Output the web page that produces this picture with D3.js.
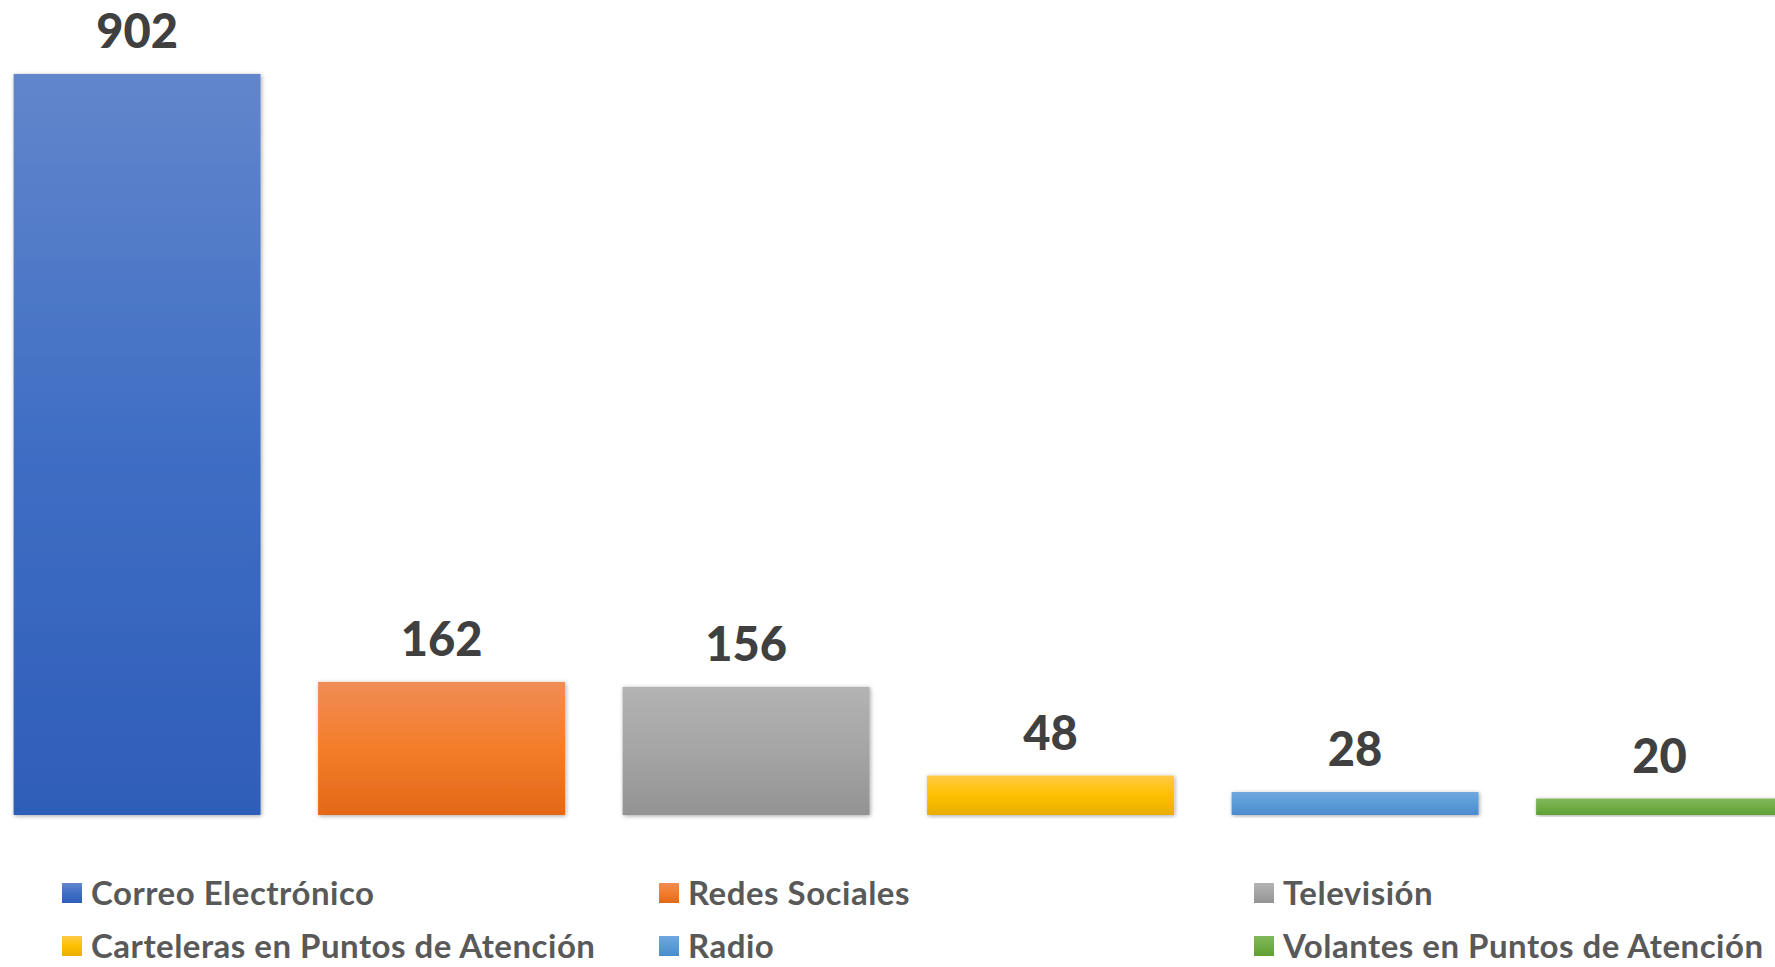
<!DOCTYPE html>
<html>
<head>
<meta charset="utf-8">
<script src="https://cdn.jsdelivr.net/npm/d3@7/dist/d3.min.js"></script>
<style>
  html, body { margin: 0; padding: 0; background: #fff; overflow: hidden; }
  svg { display: block; }
</style>
</head>
<body>
<div id="chart"></div>
<script>
// data
var categories = ["Correo Electrónico", "Redes Sociales", "Televisión",
                  "Carteleras en Puntos de Atención", "Radio", "Volantes en Puntos de Atención"];
var values = [902, 162, 156, 48, 28, 20];

// gradient stops per series: top, middle, bottom
var palette = [
    ["#6286cc", "#3f6ec4", "#2e5eb8"],
    ["#f08c55", "#f47d2a", "#e26818"],
    ["#b3b3b3", "#a5a5a5", "#939393"],
    ["#ffca47", "#ffc000", "#e8ad00"],
    ["#70a8e0", "#5b9bd5", "#4a8bce"],
    ["#80b95a", "#70ad47", "#5f9f34"]
];

var svgWidth = 1775;
var svgHeight = 967;
var baseline = 815;
var barTop902 = 74;
var labelFont = "Lato, 'Open Sans', sans-serif";

var svg = d3.select("#chart")
    .append("svg")
    .attr("width", svgWidth)
    .attr("height", svgHeight);

var defs = svg.append("defs");

var shadow = defs.append("filter")
    .attr("id", "shadow")
    .attr("x", "-10%").attr("y", "-10%")
    .attr("width", "120%").attr("height", "120%");
shadow.append("feDropShadow")
    .attr("dx", 1).attr("dy", 1)
    .attr("stdDeviation", 2)
    .attr("flood-color", "#000")
    .attr("flood-opacity", 0.35);

palette.forEach(function(c, i) {
    var g = defs.append("linearGradient")
        .attr("id", "grad" + i)
        .attr("x1", 0).attr("y1", 0)
        .attr("x2", 0).attr("y2", 1);
    g.append("stop").attr("offset", "0%").attr("stop-color", c[0]);
    g.append("stop").attr("offset", "50%").attr("stop-color", c[1]);
    g.append("stop").attr("offset", "100%").attr("stop-color", c[2]);
});

var step = 304.5;
var xScale = d3.scaleBand()
    .domain(categories)
    .range([13.6 - 0.0945 * step, 13.6 - 0.0945 * step + 6 * step])
    .paddingInner(0.189)
    .paddingOuter(0.0945);

var yScale = d3.scaleLinear()
    .domain([0, 902])
    .range([baseline, barTop902]);

var data = categories.map(function(c, i) { return {name: c, value: values[i], idx: i}; });

svg.append("g").selectAll("rect")
    .data(data)
    .enter()
    .append("rect")
    .attr("x", d => xScale(d.name))
    .attr("y", d => yScale(d.value))
    .attr("width", xScale.bandwidth())
    .attr("height", d => baseline - yScale(d.value))
    .attr("fill", d => "url(#grad" + d.idx + ")")
    .attr("filter", "url(#shadow)");

svg.append("g").selectAll("text")
    .data(data)
    .enter()
    .append("text")
    .attr("x", d => xScale(d.name) + xScale.bandwidth() / 2)
    .attr("y", d => yScale(d.value) - 26)
    .attr("text-anchor", "middle")
    .attr("font-family", labelFont)
    .attr("font-weight", "900")
    .attr("font-size", "47px")
    .attr("fill", "#404040")
    .text(d => d.value);

// legend, three columns, two rows
var legendCols = [62, 659, 1254];
var legendRows = [893, 946];
var swatch = 20;

var legend = svg.append("g").selectAll("g")
    .data(data)
    .enter()
    .append("g")
    .attr("transform", d => `translate(${legendCols[d.idx % 3]},${legendRows[Math.floor(d.idx / 3)]})`);

legend.append("rect")
    .attr("x", 0)
    .attr("y", -swatch / 2)
    .attr("width", swatch)
    .attr("height", swatch)
    .attr("fill", d => "url(#grad" + d.idx + ")");

legend.append("text")
    .attr("x", 29)
    .attr("dy", "0.36em")
    .attr("font-family", labelFont)
    .attr("font-weight", "bold")
    .attr("font-size", "33px")
    .attr("letter-spacing", "0.5px")
    .attr("fill", "#595959")
    .text(d => d.name);
</script>
</body>
</html>
